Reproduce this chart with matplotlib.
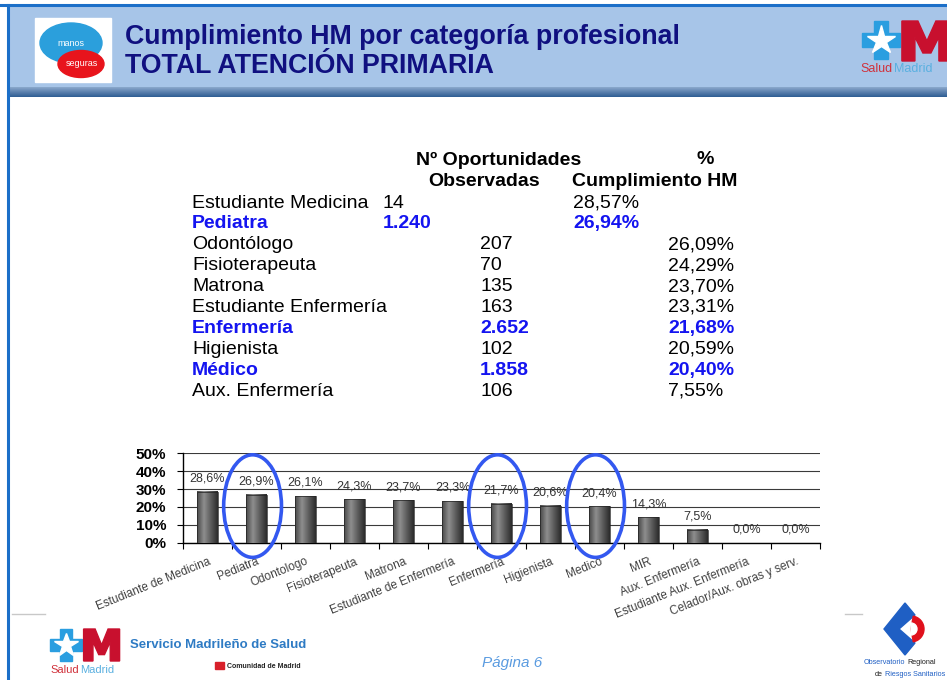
import numpy as np
import matplotlib
matplotlib.use("Agg")
import matplotlib.pyplot as plt
from matplotlib.patches import Rectangle, Ellipse, Polygon, Wedge
from matplotlib.colors import LinearSegmentedColormap

plt.rcParams['font.family'] = ['Liberation Sans', 'DejaVu Sans']

# tabla
tabla_cat = ['Estudiante Medicina', 'Pediatra', 'Odontólogo', 'Fisioterapeuta', 'Matrona',
             'Estudiante Enfermería', 'Enfermería', 'Higienista', 'Médico', 'Aux. Enfermería']
tabla_obs = [14, 1240, 207, 70, 135, 163, 2652, 102, 1858, 106]
tabla_pct = [28.57, 26.94, 26.09, 24.29, 23.70, 23.31, 21.68, 20.59, 20.40, 7.55]
destacadas = ['Pediatra', 'Enfermería', 'Médico']

# grafico
categorias = ['Estudiante de Medicina', 'Pediatra', 'Odontologo', 'Fisioterapeuta', 'Matrona',
              'Estudiante de Enfermería', 'Enfermería', 'Higienista', 'Medico', 'MIR',
              'Aux. Enfermería', 'Estudiante Aux. Enfermería', 'Celador/Aux. obras y serv.']
valores = [28.6, 26.9, 26.1, 24.3, 23.7, 23.3, 21.7, 20.6, 20.4, 14.3, 7.5, 0.0, 0.0]
circulos = [1, 6, 8]

W, H = 947, 680
fig = plt.figure(figsize=(W / 100, H / 100), dpi=100)
bg = fig.add_axes([0, 0, 1, 1])
bg.set_xlim(0, W)
bg.set_ylim(H, 0)
bg.axis('off')

# cabecera
bg.add_patch(Rectangle((8, 5), W, 83, color='#a7c5e8', zorder=1))
grad = np.linspace(0, 1, 30).reshape(-1, 1)
cab = LinearSegmentedColormap.from_list('cab', ['#8aa8cc', '#5b80ad', '#2f5e94'])
bg.imshow(grad, extent=[8, W, 97, 87], aspect='auto', cmap=cab, zorder=2)
bg.plot([0, W], [5, 5], color='#1b6fc8', lw=2.2, zorder=3)
bg.plot([8, 8], [5, H], color='#1b6fc8', lw=2.2, zorder=3)

bg.text(125, 37, 'Cumplimiento HM por categoría profesional', fontsize=19.3, fontweight='bold',
        color='#101080', va='center', zorder=4)
bg.text(125, 66, 'TOTAL ATENCIÓN PRIMARIA', fontsize=19.3, fontweight='bold',
        color='#101080', va='center', zorder=4)

# logo manos seguras
bg.add_patch(Rectangle((35, 18), 76, 64, color='white', zorder=4))
bg.add_patch(Ellipse((71, 43), 62, 40, color='#2b9fdc', zorder=5))
bg.add_patch(Ellipse((81, 64), 46, 27, color='#e8141c', zorder=6))
bg.text(71, 43, 'manos', color='white', fontsize=6.5, ha='center', va='center', zorder=7)
bg.text(82, 64, 'seguras', color='white', fontsize=6.5, ha='center', va='center', zorder=7)

cruz = np.array([[-1, -0.35], [-0.35, -0.35], [-0.35, -1], [0.35, -1], [0.35, -0.35], [1, -0.35],
                 [1, 0.35], [0.35, 0.35], [0.35, 1], [-0.35, 1], [-0.35, 0.35], [-1, 0.35]])
letra_m = np.array([[0, 1], [0, 0], [0.32, 0], [0.5, 0.5], [0.68, 0], [1, 0], [1, 1], [0.74, 1],
                    [0.74, 0.4], [0.58, 0.8], [0.42, 0.8], [0.26, 0.4], [0.26, 1]])


def logo_salud(x, y, s, mw, mh, txt_size, corte):
    # estrella azul y M roja
    bg.add_patch(Polygon(cruz * s + [x, y], closed=True, color='#2a9ee0', zorder=5))
    bg.plot(x, y, marker='*', ms=s * 1.1, color='white', mec='white', zorder=6)
    bg.add_patch(Polygon(letra_m * [mw, mh] + [x + s * 1.1, y - s], closed=True, color='#c8102e',
                         zorder=6))
    bg.text(corte, y + s * 1.55, 'Salud', fontsize=txt_size, color='#d0303a', va='center',
            ha='right', zorder=6)
    bg.text(corte + 1, y + s * 1.55, 'Madrid', fontsize=txt_size, color='#5ab0e0', va='center',
            ha='left', zorder=6)


logo_salud(881, 40, 19, 50, 40, 9, 893)
logo_salud(66, 645, 16, 36, 32, 8, 79)

# tabla
filas_y = 203 + 20.9 * np.arange(len(tabla_cat))
bg.text(499, 160, 'Nº Oportunidades', fontsize=14, fontweight='bold', ha='center', va='center')
bg.text(484, 182, 'Observadas', fontsize=14, fontweight='bold', ha='center', va='center')
bg.text(705, 160, '%', fontsize=14, fontweight='bold', ha='center', va='center')
bg.text(655, 182, 'Cumplimiento HM', fontsize=14, fontweight='bold', ha='center', va='center')
for i, (c, n, p) in enumerate(zip(tabla_cat, tabla_obs, tabla_pct)):
    dest = c in destacadas
    col = '#1414f0' if dest else 'black'
    fw = 'bold' if dest else 'normal'
    xn, xp = (383, 573) if i < 2 else (480, 668)
    ns = f'{n:,}'.replace(',', '.')
    ps = f'{p:.2f}'.replace('.', ',') + '%'
    y = filas_y[i]
    bg.text(192, y, c, fontsize=14, color=col, fontweight=fw, va='center')
    bg.text(xn, y, ns, fontsize=14, color=col, fontweight=fw, va='center')
    bg.text(xp, y, ps, fontsize=14, color=col, fontweight=fw, va='center')

# pie
bg.plot([12, 45], [614, 614], color='#c8c8c8', lw=1)
bg.plot([845, 862], [614, 614], color='#c8c8c8', lw=1)
bg.text(130, 645, 'Servicio Madrileño de Salud', fontsize=9.5, fontweight='bold', color='#2e7bc4',
        va='center')
bg.add_patch(Rectangle((215, 662), 9, 7, color='#d8202a'))
bg.text(227, 666, 'Comunidad de Madrid', fontsize=5, fontweight='bold', color='#222', va='center')
bg.text(512, 663, 'Página 6', fontsize=11, style='italic', color='#5a9be0', ha='center', va='center')
chevron = [[905, 603], [884, 629], [905, 655], [915, 643], [899, 629], [915, 615]]
bg.add_patch(Polygon(chevron, closed=True, color='#1f5fc4'))
bg.add_patch(Wedge((911, 629), 13, -80, 80, color='#e0101c'))
bg.add_patch(Wedge((911, 629), 6, -90, 90, color='white'))
bg.text(905, 663, 'Observatorio', fontsize=5.2, color='#1f5fc4', va='center', ha='right')
bg.text(907, 663, 'Regional', fontsize=5.2, color='#222', va='center', ha='left')
bg.text(883, 675, 'de', fontsize=5.2, color='#222', va='center', ha='right')
bg.text(885, 675, 'Riesgos Sanitarios', fontsize=5.2, color='#1f5fc4', va='center', ha='left')

# grafico de barras
ax = fig.add_axes([183 / W, 1 - 543 / H, (820 - 183) / W, 90 / H])
ax.set_facecolor('none')
x = np.arange(len(categorias))
ancho = 0.41
barcm = LinearSegmentedColormap.from_list('bar', ['#4a4a4a', '#8e8e8e', '#5c5c5c', '#2c2c2c'])
hgrad = np.linspace(0, 1, 40).reshape(1, -1)
for xi, v in zip(x, valores):
    if v > 0:
        ax.imshow(hgrad, extent=[xi - ancho / 2, xi + ancho / 2, 0, v], aspect='auto', cmap=barcm,
                  zorder=3)
    ax.annotate(f'{v:.1f}'.replace('.', ',') + '%', (xi, v), xytext=(0, 9.5),
                textcoords='offset points', ha='center', va='center', fontsize=9, color='#333333',
                zorder=4)
ax.bar(x, valores, width=ancho, facecolor='none', edgecolor='#222222', linewidth=0.5, zorder=3)

ax.set_xlim(-0.5, len(categorias) - 0.5)
ax.set_ylim(0, 50)
ax.set_yticks(np.arange(0, 51, 10))
ax.set_yticklabels([f'{t}%' for t in range(0, 51, 10)], fontsize=11, fontweight='bold')
ax.yaxis.grid(True, color='#3a3a3a', lw=0.8, zorder=1)
ax.set_axisbelow(True)
ax.tick_params(axis='y', length=4, width=0.8, pad=8)
ax.set_xticks(x)
ax.set_xticklabels(categorias, rotation=22, ha='right', va='top', rotation_mode='anchor',
                   fontsize=8.5, color='#404040')
ax.tick_params(axis='x', length=0, pad=9)
ax.set_xticks(np.arange(-0.5, len(categorias), 1), minor=True)
ax.tick_params(axis='x', which='minor', length=4, width=0.8)
for s in ['top', 'right']:
    ax.spines[s].set_visible(False)
ax.spines['left'].set_linewidth(1)
ax.spines['bottom'].set_linewidth(1)

for i in circulos:
    ax.add_patch(Ellipse((i - 0.08, 20.5), 1.18, 57, fill=False, edgecolor='#3358f0', lw=2.6,
                         clip_on=False, zorder=5))

fig.savefig('out.png', dpi=100)
